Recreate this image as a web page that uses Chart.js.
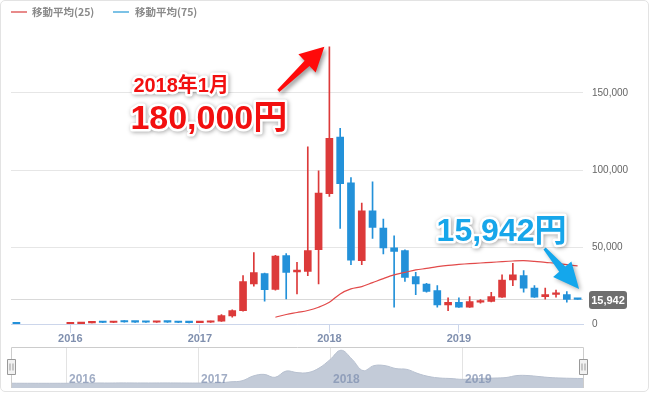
<!DOCTYPE html>
<html><head><meta charset="utf-8">
<script src="https://cdn.jsdelivr.net/npm/chart.js@4.4.1/dist/chart.umd.min.js"></script>
<style>
html,body{margin:0;padding:0;background:#fff;width:651px;height:395px;overflow:hidden;}
#frame{position:absolute;left:0;top:0;width:647px;height:390px;border:1px solid #e3e3e3;border-radius:5px;}
#main{position:absolute;left:0;top:0;}
#nav{position:absolute;left:0;top:340px;}
.lg-line{position:absolute;height:2px;top:11px;width:16px;}
.lg-text{position:absolute;top:4px;font:bold 10.5px 'Noto Sans CJK JP','Liberation Sans',sans-serif;color:#8a8a8a;line-height:16px;white-space:nowrap;}
</style></head><body>
<div id="frame"></div>
<canvas id="main" width="651" height="345"></canvas>
<canvas id="nav" width="651" height="55"></canvas>
<div id="legend"></div>
<script>
const months = ['2015-08','2015-09','2015-10','2015-11','2015-12',
'2016-01','2016-02','2016-03','2016-04','2016-05','2016-06','2016-07','2016-08','2016-09','2016-10','2016-11','2016-12',
'2017-01','2017-02','2017-03','2017-04','2017-05','2017-06','2017-07','2017-08','2017-09','2017-10','2017-11','2017-12',
'2018-01','2018-02','2018-03','2018-04','2018-05','2018-06','2018-07','2018-08','2018-09','2018-10','2018-11','2018-12',
'2019-01','2019-02','2019-03','2019-04','2019-05','2019-06','2019-07','2019-08','2019-09','2019-10','2019-11','2019-12'];
const opens = [330,null,null,null,null,
110,260,720,1250,950,1560,1320,1220,1150,1380,1200,950,
880,1150,1800,5300,8600,26000,32700,22500,44400,33800,34200,48250,
84700,121400,91600,41100,73500,62300,49400,47600,30800,26000,21700,12400,
14100,10900,14100,14600,17400,28600,31400,23400,17800,19200,19100,16300];
const closes = [160,null,null,null,null,
260,720,1250,950,1560,1320,1220,1150,1380,1200,950,880,
1150,1800,5500,8750,27500,33400,22300,44100,33500,35000,47600,85000,
120600,91200,41400,73500,62700,49400,47200,30300,26000,21200,12400,14100,
10900,14600,15200,17800,28600,31900,23200,17400,19100,19600,15900,15942];
const highs = [360,null,null,null,null,
300,800,1700,1300,1700,2200,1500,1250,1450,1420,1250,1000,
1250,1900,6150,9200,31400,46300,33000,44600,45700,40000,115000,99400,
180000,127100,95100,78500,92300,68100,57300,48100,33500,26400,24900,17000,
17000,17800,15900,20600,31900,39400,34700,24900,23400,22100,21000,16300];
const lows = [110,null,null,null,null,
100,230,700,830,900,1200,1050,1000,1100,1100,850,650,
850,1100,1700,4400,8300,24500,14800,21900,16300,19500,31400,26000,
82800,62000,38500,38500,55600,45500,10900,27700,19100,20600,10900,8700,
10800,10700,13500,14400,17200,24900,20600,17200,16100,17400,14100,15942];
const ma25 = [null,null,null,null,null,null,null,null,null,null,null,null,
null,null,null,null,null,null,null,null,null,null,null,null,
4400,6150,7450,8750,10900,14100,19550,22800,24300,26900,29500,31900,33500,35100,
36100,37200,38100,38700,39200,39600,40000,40500,40900,41100,40700,40000,39400,38500,37700];
const ma75 = [];
const navCloses = [300,150,100,100,100,150,300,800,1200,1000,1500,1300,1200,1200,1400,1200,1000,900,1200,1800,5500,
9000,26300,32400,21600,44300,38900,38900,55100,85700,119900,87500,46100,64100,64100,53300,50400,35300,24500,19100,17300,
14400,16200,18000,19100,20900,28100,28100,24500,20900,19100,18000,17300];
const yTicks = [0, 50000, 100000, 150000];
const seriesNames = ['移動平均(25)', '移動平均(75)'];
const seriesColors = ['#e24a4a', '#4aaee3'];
const legendColors = ['#e88a8a', '#7cc2e6'];
const annoRed = ['2018年1月', '180,000円'];
const annoBlue = '15,942円';

const UP = '#dc3a3a', DOWN = '#2391d9';
const last = months.length - 1;
const peakIdx = highs.indexOf(Math.max(...highs.filter(v => v != null)));
const col = i => (closes[i] >= opens[i] ? UP : DOWN);
const isJan = i => months[i] && months[i].endsWith('-01');
const FONT = "'Liberation Sans','Noto Sans CJK JP',sans-serif";

// legend (HTML text)
const lg = document.getElementById('legend');
[[11, 32], [113, 135]].forEach((p, k) => {
  const l = document.createElement('div'); l.className = 'lg-line';
  l.style.left = p[0] + 'px'; l.style.background = legendColors[k]; lg.appendChild(l);
  const t = document.createElement('div'); t.className = 'lg-text';
  t.style.left = p[1] + 'px'; t.textContent = seriesNames[k]; lg.appendChild(t);
});

function arrow(ctx, tip, tail, headLen, headHW, tailHW, neckHW, color) {
  const dx = tip.x - tail.x, dy = tip.y - tail.y, L = Math.hypot(dx, dy);
  const ux = dx / L, uy = dy / L, nx = -uy, ny = ux;
  const bx = tip.x - ux * headLen, by = tip.y - uy * headLen;
  ctx.beginPath();
  ctx.moveTo(tail.x + nx * tailHW, tail.y + ny * tailHW);
  ctx.lineTo(bx + nx * neckHW, by + ny * neckHW);
  ctx.lineTo(bx + nx * headHW, by + ny * headHW);
  ctx.lineTo(tip.x, tip.y);
  ctx.lineTo(bx - nx * headHW, by - ny * headHW);
  ctx.lineTo(bx - nx * neckHW, by - ny * neckHW);
  ctx.lineTo(tail.x - nx * tailHW, tail.y - ny * tailHW);
  ctx.closePath();
  ctx.fillStyle = color; ctx.fill();
}
function outlined(ctx, text, x, y, size, color) {
  ctx.save();
  ctx.font = 'bold ' + size + 'px ' + FONT;
  ctx.textBaseline = 'alphabetic'; ctx.textAlign = 'left';
  ctx.lineJoin = 'round'; ctx.lineWidth = 5; ctx.strokeStyle = '#fff';
  ctx.shadowColor = 'rgba(0,0,0,0.35)'; ctx.shadowBlur = 4; ctx.shadowOffsetX = 1; ctx.shadowOffsetY = 1;
  ctx.strokeText(text, x, y);
  ctx.shadowColor = 'rgba(0,0,0,0)';
  ctx.fillStyle = color; ctx.fillText(text, x, y);
  ctx.restore();
}

const annot = {
  id: 'annot',
  beforeDatasetsDraw(chart) {
    const { ctx, chartArea: a, scales: { y } } = chart;
    const py = Math.round(y.getPixelForValue(closes[last])) + 0.5;
    ctx.save(); ctx.strokeStyle = '#d9d9d9'; ctx.lineWidth = 1;
    ctx.beginPath(); ctx.moveTo(a.left, py); ctx.lineTo(a.right, py); ctx.stroke(); ctx.restore();
  },
  afterDraw(chart) {
    const { ctx, chartArea: a, scales: { x, y } } = chart;
    // price label
    const py = Math.round(y.getPixelForValue(closes[last])) + 0.5;
    ctx.save();
    ctx.fillStyle = '#6e6e6e';
    ctx.beginPath();
    if (ctx.roundRect) ctx.roundRect(a.right + 6, py - 8.5, 38, 18, 3); else ctx.rect(a.right + 6, py - 8.5, 38, 18);
    ctx.fill();
    ctx.fillStyle = '#fff'; ctx.font = 'bold 11px ' + FONT; ctx.textAlign = 'center'; ctx.textBaseline = 'middle';
    ctx.fillText(closes[last].toLocaleString('en-US'), a.right + 25, py + 1);
    ctx.restore();

    // red arrow + text
    const A = { x: x.getPixelForValue(peakIdx) - 5, y: y.getPixelForValue(highs[peakIdx]) };
    ctx.save();
    ctx.shadowColor = 'rgba(0,0,0,0.4)'; ctx.shadowBlur = 4; ctx.shadowOffsetX = 2; ctx.shadowOffsetY = 3;
    arrow(ctx, A, { x: A.x - 46, y: A.y + 44 }, 24, 12.5, 1.5, 3.5, '#ff0a0a');
    ctx.restore();
    outlined(ctx, annoRed[0], A.x - 191, A.y + 45.5, 20, '#f20f0f');
    outlined(ctx, annoRed[1], A.x - 194, A.y + 82.5, 34, '#f20f0f');

    // blue arrow + text
    const B = { x: x.getPixelForValue(last) + 1.5, y: y.getPixelForValue(closes[last]) - 10.5 };
    ctx.save();
    ctx.shadowColor = 'rgba(0,0,0,0.3)'; ctx.shadowBlur = 4; ctx.shadowOffsetX = 2; ctx.shadowOffsetY = 2;
    arrow(ctx, B, { x: B.x - 34.5, y: B.y - 40.5 }, 26, 12, 1.5, 4, '#14a7ec');
    ctx.restore();
    outlined(ctx, annoBlue, B.x - 142.5, B.y - 47.5, 32, '#17a6ea');
  }
};

new Chart(document.getElementById('main'), {
  type: 'bar',
  data: {
    labels: months,
    datasets: [
      { label: 'wick', data: months.map((m, i) => highs[i] == null ? null : [lows[i], highs[i]]),
        backgroundColor: months.map((m, i) => col(i)), barThickness: 1, grouped: false, order: 3 },
      { label: 'body', data: months.map((m, i) => opens[i] == null ? null : [opens[i], closes[i]]),
        backgroundColor: months.map((m, i) => col(i)), barThickness: 7, grouped: false, minBarLength: 1.5, order: 2 },
      { type: 'line', label: seriesNames[0], data: ma25, borderColor: seriesColors[0], borderWidth: 1.2,
        pointRadius: 0, tension: 0.35, order: 1 },
      { type: 'line', label: seriesNames[1], data: ma75, borderColor: seriesColors[1], borderWidth: 1.2,
        pointRadius: 0, tension: 0.35, order: 1 }
    ]
  },
  options: {
    responsive: false, animation: false, events: [],
    layout: { padding: { left: 11, right: 0, top: 23.7, bottom: 0 } },
    plugins: { legend: { display: false }, tooltip: { enabled: false } },
    scales: {
      x: {
        offset: true,
        grid: { offset: false, drawOnChartArea: false, drawTicks: true, tickLength: 9,
          color: c => (c.tick && isJan(c.tick.value)) ? '#ccd6eb' : 'rgba(0,0,0,0)',
          tickColor: c => (c.tick && isJan(c.tick.value)) ? '#ccd6eb' : 'rgba(0,0,0,0)' },
        border: { display: true, color: '#ccd6eb' },
        ticks: { autoSkip: false, maxRotation: 0, minRotation: 0, padding: -1, color: '#7f8fae',
          font: { family: FONT, size: 11, weight: 'bold' },
          callback: (v, i) => isJan(v) ? months[v].slice(0, 4) : '' },
        afterFit: s => { s.height = 21; }
      },
      y: {
        position: 'right', min: 0, max: 195000,
        afterBuildTicks: s => { s.ticks = yTicks.map(v => ({ value: v })); },
        grid: { color: '#e6e6e6', drawTicks: false },
        border: { display: false },
        ticks: { padding: 9, color: '#666666', font: { family: FONT, size: 10 },
          callback: v => Number(v).toLocaleString('en-US') },
        afterFit: s => { s.width = 68; }
      }
    }
  },
  plugins: [annot]
});

const navPlugin = {
  id: 'navdeco',
  afterDraw(chart) {
    const { ctx, chartArea: a, scales: { x } } = chart;
    ctx.save();
    ctx.font = 'bold 12px ' + FONT; ctx.fillStyle = 'rgba(125,142,175,0.72)';
    ctx.textAlign = 'left'; ctx.textBaseline = 'alphabetic';
    months.forEach((m, i) => { if (isJan(i)) ctx.fillText(m.slice(0, 4), x.getPixelForValue(i) + 3, a.bottom - 5); });
    ctx.strokeStyle = '#cccccc'; ctx.lineWidth = 1;
    ctx.beginPath();
    ctx.moveTo(a.left + 0.5, a.bottom); ctx.lineTo(a.left + 0.5, a.top - 0.5);
    ctx.lineTo(a.right + 0.5, a.top - 0.5); ctx.lineTo(a.right + 0.5, a.bottom);
    ctx.stroke();
    [a.left, a.right].forEach(hx => {
      const l = Math.round(hx) - 3.5, t = a.top + 11.5;
      ctx.fillStyle = '#f2f2f2'; ctx.strokeStyle = '#999';
      ctx.beginPath(); ctx.rect(l, t, 8, 15); ctx.fill(); ctx.stroke();
      ctx.beginPath();
      ctx.moveTo(l + 2.5, t + 4); ctx.lineTo(l + 2.5, t + 11);
      ctx.moveTo(l + 5.5, t + 4); ctx.lineTo(l + 5.5, t + 11);
      ctx.stroke();
    });
    ctx.restore();
  }
};

new Chart(document.getElementById('nav'), {
  type: 'line',
  data: { labels: months, datasets: [{ data: navCloses, fill: 'start', backgroundColor: '#c3cbd8',
    borderColor: '#b8c1d0', borderWidth: 1, pointRadius: 0, tension: 0.4 }] },
  options: {
    responsive: false, animation: false, events: [],
    layout: { padding: { left: 11, right: 68, top: 8, bottom: 7 } },
    plugins: { legend: { display: false }, tooltip: { enabled: false } },
    scales: {
      x: { offset: false, ticks: { display: false, autoSkip: false },
        grid: { drawTicks: false, color: c => (c.tick && isJan(c.tick.value)) ? '#e3e3e3' : 'rgba(0,0,0,0)' },
        border: { display: false }, afterFit: s => { s.height = 0; } },
      y: { display: false, min: -17000, max: 128000 }
    }
  },
  plugins: [navPlugin]
});
</script>
</body></html>
